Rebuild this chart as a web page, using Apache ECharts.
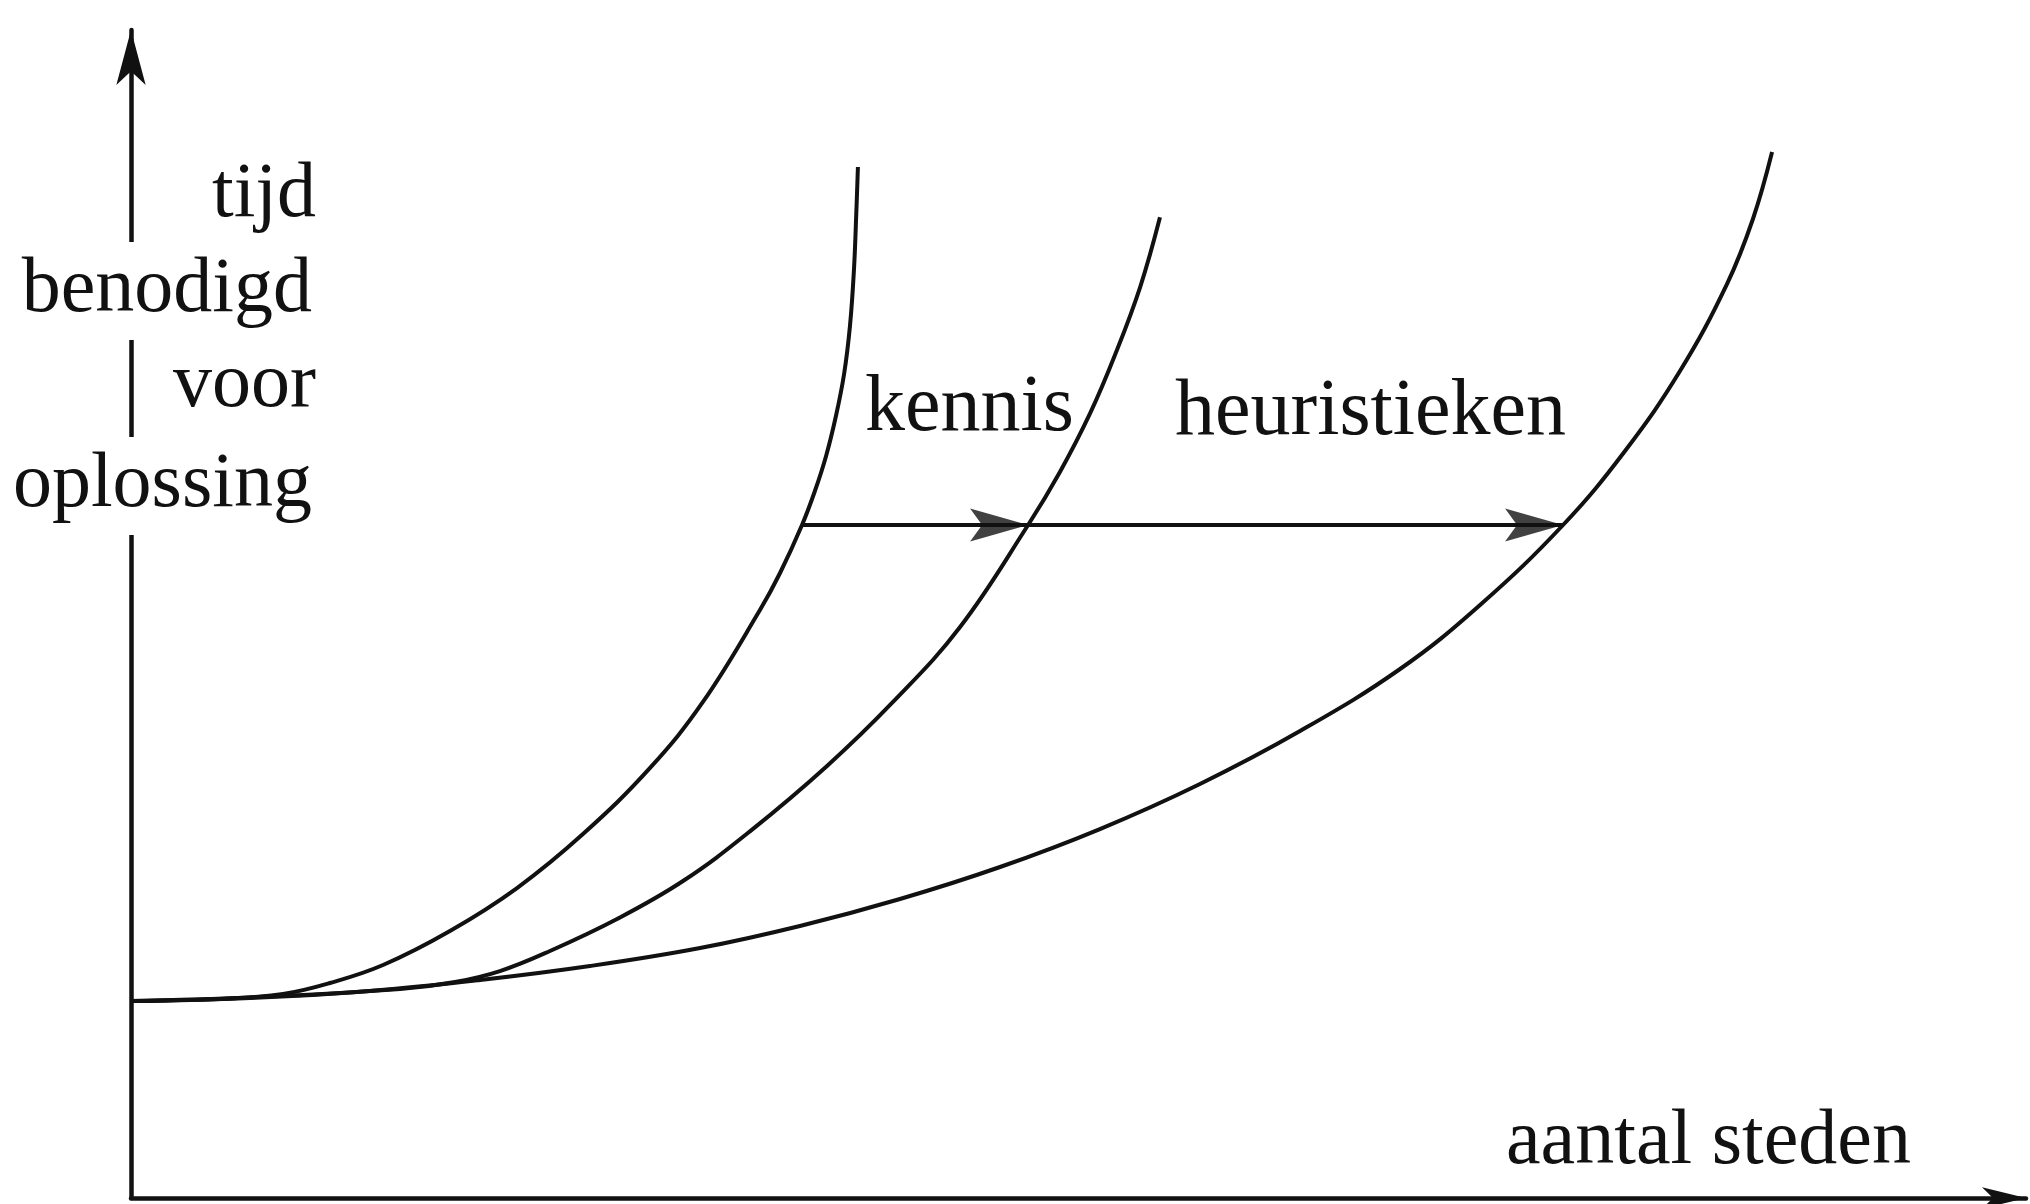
<!DOCTYPE html>
<html>
<head>
<meta charset="utf-8">
<title>tijd benodigd voor oplossing</title>
<script src="https://cdn.jsdelivr.net/npm/echarts@6/dist/echarts.min.js"></script>
<style>
  html, body { margin: 0; padding: 0; background: #fff; }
  #chart-container { width: 2030px; height: 1204px; }
</style>
</head>
<body>
<div id="chart-container"></div>
<script>
// x = aantal steden, y = tijd (both 0..100)
const curveZonder = [
    [0, 16.87], [4.70, 17.04], [8.02, 17.47], [10.50, 18.41], [13.30, 19.95],
    [16.83, 22.86], [20.37, 26.54], [23.85, 31.16], [27.39, 36.82], [30.18, 42.47],
    [33.19, 50.34], [34.25, 53.51], [35.41, 57.62], [36.09, 60.53], [36.68, 63.53],
    [37.20, 66.95], [37.63, 70.55], [37.94, 74.66], [38.15, 79.45], [38.28, 84.59],
    [38.36, 88.27]
];
const curveKennis = [
    [0, 16.87], [6.28, 17.17], [14.20, 17.89], [17.10, 18.49], [19.47, 19.43],
    [22.11, 21.15], [25.65, 23.89], [29.13, 27.14], [32.66, 31.39], [36.73, 36.99],
    [40.21, 42.47], [43.75, 48.89], [47.34, 57.62], [49.02, 62.16], [50.61, 67.17],
    [51.93, 72.19], [53.25, 77.97], [54.30, 83.96]
];
const curveHeuristieken = [
    [0, 16.87], [6.28, 17.12], [12.61, 17.72], [18.42, 18.66], [24.22, 19.86],
    [30.03, 21.40], [35.30, 23.29], [40.58, 25.60], [45.86, 28.34], [51.13, 31.59],
    [56.41, 35.45], [61.69, 39.98], [66.97, 45.29], [71.19, 50.77], [75.57, 57.62],
    [78.84, 63.96], [81.74, 70.80], [84.22, 78.25], [85.59, 83.82], [86.60, 89.55]
];
// horizontal arrow: start, first head, second head
const arrowLevel = 57.62;
const arrowStops = [35.41, 47.34, 75.57];

const yLabels = ['tijd', 'benodigd', 'voor', 'oplossing'];
const curveLabels = ['kennis', 'heuristieken'];
const xLabel = 'aantal steden';

const ink = '#111';
const serif = '"Liberation Serif", "DejaVu Serif", serif';
const fontSize = 78;

const chartDom = document.getElementById('chart-container');
const myChart = echarts.init(chartDom, null, { renderer: 'canvas' });

function curveSeries(name, data) {
    return {
        name: name,
        type: 'line',
        data: data,
        showSymbol: false,
        smooth: 0.4,
        lineStyle: { color: ink, width: 4 },
        animation: false,
        z: 3
    };
}

// y-axis labels: the long lines cover the axis line (white box)
const yLabelY = [196, 291, 386, 486];
const yLabelGraphics = yLabels.map(function (txt, i) {
    const covers = (txt === 'benodigd' || txt === 'oplossing');
    return {
        type: 'text',
        x: 316,
        y: yLabelY[i],
        z: 100,
        style: {
            text: txt,
            font: fontSize + 'px ' + serif,
            fill: ink,
            align: 'right',
            verticalAlign: 'middle',
            backgroundColor: covers ? '#fff' : null,
            padding: covers ? [10, 4] : 0
        }
    };
});

function plainText(txt, x, y, size) {
    return {
        type: 'text', x: x, y: y, z: 100,
        style: {
            text: txt,
            font: size + 'px ' + serif,
            fill: ink,
            align: 'left',
            verticalAlign: 'middle'
        }
    };
}

const option = {
    backgroundColor: '#fff',
    animation: false,
    grid: { left: 131, right: 4, top: 30, bottom: 6, outerBoundsMode: 'none' },
    xAxis: {
        type: 'value',
        min: 0,
        max: 100,
        axisLine: {
            show: true,
            onZero: false,
            symbol: ['none', 'arrow'],
            symbolSize: [16, 44],
            lineStyle: { color: ink, width: 4.5 }
        },
        axisTick: { show: false },
        axisLabel: { show: false },
        splitLine: { show: false }
    },
    yAxis: {
        type: 'value',
        min: 0,
        max: 100,
        axisLine: {
            show: true,
            onZero: false,
            symbol: ['none', 'arrow'],
            symbolSize: [22, 55],
            lineStyle: { color: ink, width: 4.5 }
        },
        axisTick: { show: false },
        axisLabel: { show: false },
        splitLine: { show: false }
    },
    series: [
        curveSeries('zonder', curveZonder),
        curveSeries('kennis', curveKennis),
        curveSeries('heuristieken', curveHeuristieken),
        {
            name: 'verschuiving',
            type: 'line',
            data: [[arrowStops[0], arrowLevel], [arrowStops[2], arrowLevel]],
            showSymbol: false,
            lineStyle: { color: ink, width: 4 },
            z: 4
        },
        {
            name: 'pijlpunten',
            type: 'scatter',
            data: [[arrowStops[1], arrowLevel], [arrowStops[2], arrowLevel]],
            symbol: 'path://M0,0 L58,16.5 L0,33 L12,16.5 Z',
            symbolSize: [58, 33],
            symbolOffset: [-29, 0],
            itemStyle: { color: ink },
            z: 5
        }
    ],
    graphic: yLabelGraphics.concat([
        plainText(curveLabels[0], 865, 409, 80),
        plainText(curveLabels[1], 1175, 413, 80),
        plainText(xLabel, 1506, 1143, 78)
    ])
};
myChart.setOption(option);
</script>
</body>
</html>
